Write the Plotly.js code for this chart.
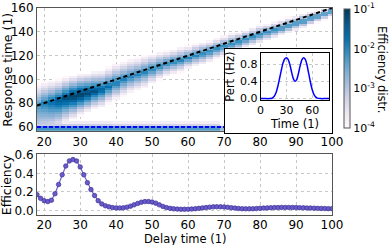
<!DOCTYPE html>
<html>
<head>
<meta charset="utf-8">
<script src="https://cdn.plot.ly/plotly-3.0.1.min.js"></script>
<style>html,body{margin:0;padding:0;background:#fff;}#chart{width:390px;height:245px;}</style>
</head>
<body>
<div id="chart"></div>
<script>
// ---------- data ----------
// heatmap bin centers
const delayBins = [18,20,22,24,26,28,30,32,34,36,38,40,42,44,46,48,50,52,54,56,58,60,62,64,66,68,70,72,74,76,78,80,82,84,86,88,90,92,94,96,98,100];
const responseBins = [58,60,62,64,66,68,70,72,74,76,78,80,82,84,86,88,90,92,94,96,98,100,102,104,106,108,110,112,114,116,118,120,122,124,126,128,130,132,134,136,138,140,142,144,146,148,150,152,154,156,158,160];
// ridge of the efficiency distribution, per delay bin
const ridgeCenter = [78,80,81,82,84,85.5,87,88.5,90,91.5,94,97,100,102,104,106,108.5,111,113,114.5,116,118,120,121.5,123.5,125.5,127.5,129.5,131.5,133.5,135.5,137.5,139.5,141.5,143,145,147,149,151,153,155,157];
const ridgePeakLog = [-2.2,-1.95,-1.7,-1.45,-1.25,-1.05,-1.0,-1.1,-1.3,-1.5,-1.7,-1.85,-1.95,-2.0,-2.0,-2.0,-2.0,-2.0,-2.0,-2.0,-2.0,-2.0,-2.0,-2.0,-2.0,-2.0,-2.0,-2.0,-2.0,-2.0,-2.0,-2.0,-2.0,-2.0,-2.0,-2.0,-2.0,-2.0,-2.0,-2.0,-2.0,-2.0];
const ridgeSpreadUp = [18,18,18,18,18,18,18,17,17,16,16,16,15,15,14,14,13,12,11,11,11,10,10,10,9,9,9,9,8,8,8,8,7,7,7,7,6,6,6,5,5,5];
const ridgeSpreadDown = [30,29,27,24,21,19,17,16,15,15,14,14,14,13,13,13,12,11,10,10,10,9,9,9,9,8,8,8,8,7,7,7,7,7,6,6,6,6,5,5,5,5];
const floorBandLog = [-2.2,-2.2,-2.2,-2.2,-2.2,-2.2,-2.2,-2.2,-2.2,-2.2,-2.2,-2.3,-2.3,-2.3,-2.3,-2.3,-2.3,-2.3,-2.3,-2.3,-2.3,-2.3,-2.3,-2.3,-2.3,-2.3,-2.8,-2.8,-2.8,-2.8,-2.8,-2.8,-2.8,-2.8,-2.8,-2.8,-2.8,-2.8,-2.8,-2.8,-2.8,-2.8];
// reference lines
const diagLineX = [18,100];
const diagLineY = [78,160];
const floorLineX = [18,100];
const floorLineY = [60,60];
// efficiency vs delay time
const delayTime = [18,19,20,21,22,23,24,25,26,27,28,29,30,31,32,33,34,35,36,37,38,39,40,41,42,43,44,45,46,47,48,49,50,51,52,53,54,55,56,57,58,59,60,61,62,63,64,65,66,67,68,69,70,71,72,73,74,75,76,77,78,79,80,81,82,83,84,85,86,87,88,89,90,91,92,93,94,95,96,97,98,99,100];
const efficiency = [0.17,0.13,0.105,0.095,0.11,0.18,0.28,0.385,0.48,0.535,0.55,0.535,0.47,0.385,0.30,0.225,0.16,0.105,0.07,0.05,0.038,0.03,0.027,0.026,0.028,0.035,0.046,0.06,0.075,0.088,0.095,0.095,0.09,0.078,0.06,0.043,0.03,0.022,0.017,0.014,0.012,0.012,0.013,0.015,0.018,0.022,0.027,0.031,0.035,0.038,0.039,0.039,0.037,0.033,0.029,0.025,0.021,0.018,0.017,0.017,0.018,0.02,0.023,0.025,0.027,0.029,0.03,0.031,0.032,0.032,0.032,0.031,0.03,0.029,0.028,0.026,0.025,0.024,0.022,0.021,0.02,0.019,0.019];
// inset perturbation
const pertTime = [0,5,10,12,14,16,18,20,22,24,26,28,30,32,34,36,38,40,42,44,46,48,50,52,54,56,58,60,62,64,66,70,75,80];
const pertValue = [0,0,0,0.005,0.02,0.06,0.14,0.28,0.46,0.65,0.82,0.92,0.95,0.91,0.79,0.62,0.47,0.40,0.44,0.58,0.76,0.90,0.95,0.91,0.78,0.58,0.38,0.21,0.10,0.04,0.012,0,0,0];
const cbTickVals = [-4,-3,-2,-1];
const cbTickText = ['10<sup>-4</sup>','10<sup>-3</sup>','10<sup>-2</sup>','10<sup>-1</sup>'];

// ---------- build heatmap table ----------
const zLog = responseBins.map(y => delayBins.map((x, j) => {
  const d = y - ridgeCenter[j];
  const ext = d >= 0 ? ridgeSpreadUp[j] : ridgeSpreadDown[j];
  const r = Math.abs(d) / ext;
  let v = ridgePeakLog[j] - (ridgePeakLog[j] + 4) * r;
  if (y <= 60) v = Math.max(v, floorBandLog[j]);
  else if (y === 62) v = Math.max(v, floorBandLog[j] - 1.0);
  else if (y === 64) v = Math.max(v, floorBandLog[j] - 1.5);
  return v < -4 ? null : v;
}));

const PuBu = [[0,'#fff7fb'],[0.125,'#ece7f2'],[0.25,'#d0d1e6'],[0.375,'#a6bddb'],[0.5,'#74a9cf'],[0.625,'#3690c0'],[0.75,'#0570b0'],[0.875,'#045a8d'],[1,'#023858']];

const gridStyle = {showgrid:true, gridcolor:'#c8c8c8', griddash:'dot', gridwidth:1, zeroline:false,
  showline:true, mirror:true, linecolor:'#555', linewidth:1, ticks:'', tickfont:{size:12}};

const traces = [
  {type:'heatmap', x:delayBins, y:responseBins, z:zLog, xaxis:'x', yaxis:'y',
   colorscale:PuBu, zmin:-4, zmax:-1, zsmooth:false, hoverinfo:'skip',
   colorbar:{x:1.041, xanchor:'left', xpad:0, y:0.420, yanchor:'bottom', ypad:0, len:0.575, lenmode:'fraction',
     thickness:6, outlinecolor:'#555', outlinewidth:1, tickvals:cbTickVals, ticktext:cbTickText,
     ticks:'', tickfont:{size:11}}},
  {type:'scatter', mode:'lines', x:diagLineX, y:diagLineY, xaxis:'x', yaxis:'y',
   line:{color:'#000', width:2, dash:'4px,3px'}, hoverinfo:'skip'},
  {type:'scatter', mode:'lines', x:floorLineX, y:floorLineY, xaxis:'x', yaxis:'y',
   line:{color:'#0000ff', width:2, dash:'4px,2px'}, hoverinfo:'skip'},
  {type:'scatter', mode:'lines+markers', x:delayTime, y:efficiency, xaxis:'x2', yaxis:'y2',
   line:{color:'#6a63d0', width:1.2}, marker:{size:4.5, color:'#6a5acd', line:{color:'#3b3290', width:0.7}}, hoverinfo:'skip'},
  {type:'scatter', mode:'lines', x:[null], y:[null], xaxis:'x3', yaxis:'y3', hoverinfo:'skip'},
  {type:'scatter', mode:'lines', x:pertTime, y:pertValue, xaxis:'x4', yaxis:'y4',
   line:{color:'#0000ff', width:1.5, shape:'spline', smoothing:0.6}, hoverinfo:'skip'}
];

const layout = {
  width:390, height:245,
  margin:{l:37, r:58, t:8, b:30},
  paper_bgcolor:'#fff', plot_bgcolor:'#fff',
  font:{family:'DejaVu Sans', size:12, color:'#000'},
  showlegend:false,
  xaxis:Object.assign({}, gridStyle, {domain:[0,1], anchor:'y', range:[18,100], tickvals:[20,30,40,50,60,70,80,90,100]}),
  yaxis:Object.assign({}, gridStyle, {domain:[0.406,1], anchor:'x', range:[56.6,160], tickvals:[60,80,100,120,140,160]}),
  xaxis2:Object.assign({}, gridStyle, {domain:[0,1], anchor:'y2', range:[18,100], tickvals:[20,30,40,50,60,70,80,90,100], ticklabelstandoff:-1}),
  yaxis2:Object.assign({}, gridStyle, {domain:[0,0.2947], anchor:'x2', range:[-0.05,0.61], tickvals:[0,0.2,0.4,0.6], tickformat:'.1f'}),
  xaxis3:{domain:[0.637,1], anchor:'y3', range:[0,1], showgrid:false, zeroline:false, showticklabels:false, ticks:'',
    showline:true, mirror:true, linecolor:'#000', linewidth:1},
  yaxis3:{domain:[0.396,0.802], anchor:'x3', range:[0,1], showgrid:false, zeroline:false, showticklabels:false, ticks:'',
    showline:true, mirror:true, linecolor:'#000', linewidth:1},
  xaxis4:Object.assign({}, gridStyle, {domain:[0.758,0.991], anchor:'y4', range:[0,80], tickvals:[0,30,60],
    linecolor:'#000', tickfont:{size:11}, title:{text:'Time (1)', font:{size:11.5}, standoff:2}}),
  yaxis4:Object.assign({}, gridStyle, {domain:[0.556,0.781], anchor:'x4', range:[-0.03,1.05], tickvals:[0,0.4,0.8], tickformat:'.1f',
    linecolor:'#000', tickfont:{size:11}, title:{text:'Pert (Hz)', font:{size:11.5}, standoff:2}}),
  annotations:[
    {text:'Response time (1)', xref:'paper', yref:'paper', x:-0.103, y:0.700, textangle:-90,
     showarrow:false, font:{size:12.5}, xanchor:'center', yanchor:'middle', borderpad:0},
    {text:'Efficiency', xref:'paper', yref:'paper', x:-0.101, y:0.145, textangle:-90,
     showarrow:false, font:{size:12.5}, xanchor:'center', yanchor:'middle', borderpad:0},
    {text:'Delay time (1)', xref:'paper', yref:'paper', x:0.502, y:-0.116,
     showarrow:false, font:{size:11.5}, xanchor:'center', yanchor:'middle', borderpad:0},
    {text:'Efficiency distr.', xref:'paper', yref:'paper', x:1.1695, y:0.705, textangle:90,
     showarrow:false, font:{size:11.5}, xanchor:'center', yanchor:'middle', borderpad:0}
  ]
};

Plotly.newPlot('chart', traces, layout, {staticPlot:true, displayModeBar:false});
</script>
</body>
</html>
